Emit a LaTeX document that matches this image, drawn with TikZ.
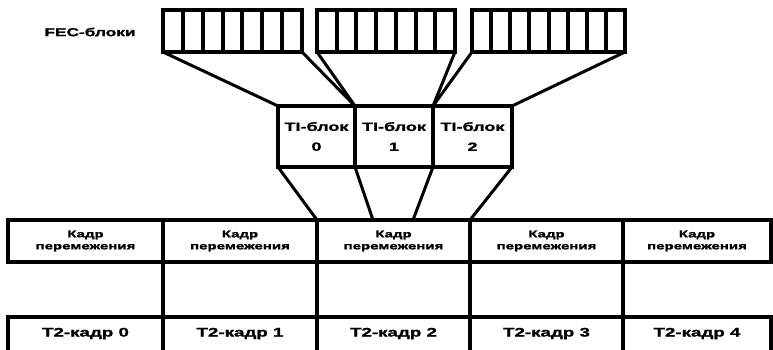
\documentclass[tikz,border=0pt]{standalone}
\usepackage{fontspec}
\setmainfont{Liberation Sans}
\newfontfamily\wf[FakeStretch=1.5,FakeBold=1.5]{Liberation Sans}
\usetikzlibrary{calc}
\tikzset{
  box/.style={draw, line width=3.5pt, inner sep=0pt, outer sep=0pt, anchor=north west},
  fecbox/.style={box, minimum height=42pt},
  cellline/.style={line width=4pt},
  tibox/.style={box, minimum width=77pt, minimum height=61pt, align=center,
    font={\wf\bfseries\fontsize{12}{20}\selectfont}},
  hdrbox/.style={box, line width=4pt, minimum height=42pt, align=center,
    font={\wf\bfseries\fontsize{10}{12}\selectfont}},
  t2box/.style={inner sep=0pt, outer sep=0pt, anchor=north west, minimum height=33pt,
    font={\wf\bfseries\fontsize{12.5}{14}\selectfont}},
  tabline/.style={line width=4pt},
  conn/.style={line width=3pt},
  fectext/.style={font={\wf\bfseries\fontsize{11.5}{13}\selectfont}}
}
\begin{document}
\begin{tikzpicture}[x=1pt,y=-1pt]
\useasboundingbox (0,0) rectangle (773,350);
% FEC label
\node[fectext] (feclabel) at (90,32) {FEC-блоки};
% FEC blocks
\node[fecbox, minimum width=139pt] (fec1) at (163,10) {};
\node[fecbox, minimum width=138pt] (fec2) at (317,10) {};
\node[fecbox, minimum width=153pt] (fec3) at (472,10) {};
\foreach \i in {1,...,6} {
  \draw[cellline] ($(fec1.north west)!\i/7!(fec1.north east)$) -- ($(fec1.south west)!\i/7!(fec1.south east)$);
  \draw[cellline] ($(fec2.north west)!\i/7!(fec2.north east)$) -- ($(fec2.south west)!\i/7!(fec2.south east)$);
}
\foreach \i in {1,...,7} {
  \draw[cellline] ($(fec3.north west)!\i/8!(fec3.north east)$) -- ($(fec3.south west)!\i/8!(fec3.south east)$);
}
% TI blocks
\node[tibox] (ti0) at (278,106) {TI-блок\\0};
\node[tibox, minimum width=78pt] (ti1) at (355,106) {TI-блок\\1};
\node[tibox, minimum width=79pt] (ti2) at (433,106) {TI-блок\\2};
% header row
\node[hdrbox, minimum width=155pt] (hdr0) at (8,220) {Кадр\\перемежения};
\node[hdrbox, minimum width=154pt] (hdr1) at (163,220) {Кадр\\перемежения};
\node[hdrbox, minimum width=153pt] (hdr2) at (317,220) {Кадр\\перемежения};
\node[hdrbox, minimum width=153pt] (hdr3) at (470,220) {Кадр\\перемежения};
\node[hdrbox, minimum width=148pt] (hdr4) at (623,220) {Кадр\\перемежения};
% T2 row
\node[t2box, minimum width=155pt] (t20) at (8,317) {T2-кадр 0};
\node[t2box, minimum width=154pt] (t21) at (163,317) {T2-кадр 1};
\node[t2box, minimum width=153pt] (t22) at (317,317) {T2-кадр 2};
\node[t2box, minimum width=153pt] (t23) at (470,317) {T2-кадр 3};
\node[t2box, minimum width=148pt] (t24) at (623,317) {T2-кадр 4};
\draw[tabline] (t20.south west) -- (t20.north west) -- (t24.north east) -- (t24.south east);
\foreach \k in {1,2,3,4} {
  \draw[tabline] (hdr\k.south west) -- (t2\k.south west);
}
% connectors FEC -> TI
\draw[conn] (fec1.south west) -- (ti0.north west);
\draw[conn] (fec1.south east) -- (ti1.north west);
\draw[conn] (fec2.south west) -- (ti1.north west);
\draw[conn] (fec2.south east) -- (ti2.north west);
\draw[conn] (fec3.south west) -- (ti2.north west);
\draw[conn] (fec3.south east) -- (ti2.north east);
% connectors TI -> frame
\coordinate (m1) at (373,220);
\coordinate (m2) at (413,220);
\draw[conn] (ti0.south west) -- (hdr2.north west);
\draw[conn] (ti1.south west) -- (m1);
\draw[conn] (ti2.south west) -- (m2);
\draw[conn] (ti2.south east) -- (hdr2.north east);
\end{tikzpicture}
\end{document}
